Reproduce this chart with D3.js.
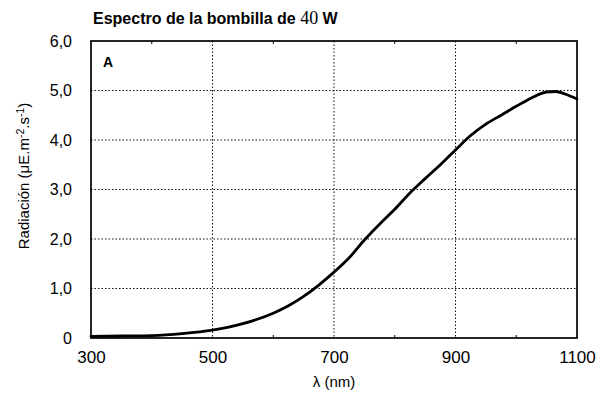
<!DOCTYPE html>
<html>
<head>
<meta charset="utf-8">
<script src="https://cdn.jsdelivr.net/npm/d3@7"></script>
<style>
  html, body { margin: 0; padding: 0; background: #fff; }
  svg { display: block; }
</style>
</head>
<body>
<script>
// ---- data ----
const wavelengths = [300, 350, 400, 450, 500, 550, 600, 625, 650, 675, 700, 725, 750, 775, 800, 825, 850, 875, 900, 925, 950, 975, 1000, 1025, 1050, 1065, 1080, 1100];
const radiation   = [0.03, 0.04, 0.05, 0.09, 0.16, 0.29, 0.50, 0.65, 0.84, 1.07, 1.33, 1.62, 1.98, 2.30, 2.60, 2.93, 3.22, 3.50, 3.80, 4.09, 4.32, 4.50, 4.68, 4.85, 4.97, 4.98, 4.93, 4.83];
const xTicks = [300, 500, 700, 900, 1100];
const xMinorTicks = [400, 600, 800, 1000];
const yTicks = [0, 1, 2, 3, 4, 5, 6];
const yTickLabels = ["0", "1,0", "2,0", "3,0", "4,0", "5,0", "6,0"];
const titleParts = ["Espectro de la bombilla de ", "40", " W"];
const panelLabel = "A";
const xTitle = "λ  (nm)";

// ---- layout ----
const W = 607, H = 404;
const m = { left: 91, right: 577, top: 41, bottom: 338 };

const svg = d3.select("body").append("svg").attr("width", W).attr("height", H);

const x = d3.scaleLinear().domain([300, 1100]).range([m.left, m.right]);
const y = d3.scaleLinear().domain([0, 6]).range([m.bottom, m.top]);

const font = "'Liberation Sans', Arial, Helvetica, sans-serif";

// grid
const grid = svg.append("g").attr("stroke", "#111").attr("stroke-width", 1).attr("stroke-dasharray", "1.5,2");
grid.selectAll("line.v").data(xTicks.slice(1, -1)).join("line")
  .attr("x1", d => x(d)).attr("x2", d => x(d)).attr("y1", m.top).attr("y2", m.bottom);
grid.selectAll("line.h").data(yTicks.slice(1, -1)).join("line")
  .attr("x1", m.left).attr("x2", m.right).attr("y1", d => y(d)).attr("y2", d => y(d));

// minor ticks (inside, top and bottom)
const minor = svg.append("g").attr("stroke", "#000").attr("stroke-width", 1);
minor.selectAll("line.b").data(xMinorTicks).join("line")
  .attr("x1", d => x(d)).attr("x2", d => x(d)).attr("y1", m.bottom).attr("y2", m.bottom - 3);
minor.selectAll("line.t").data(xMinorTicks).join("line")
  .attr("x1", d => x(d)).attr("x2", d => x(d)).attr("y1", m.top).attr("y2", m.top + 3);

// border
svg.append("rect").attr("x", m.left).attr("y", m.top)
  .attr("width", m.right - m.left).attr("height", m.bottom - m.top)
  .attr("fill", "none").attr("stroke", "#000").attr("stroke-width", 1.7);

// axes labels via d3 axes
const xAxis = d3.axisBottom(x).tickValues(xTicks).tickSize(0).tickPadding(13).tickFormat(d3.format("d"));
const gx = svg.append("g").attr("transform", `translate(0,${m.bottom})`).call(xAxis);
gx.select(".domain").remove();
gx.selectAll("text").attr("font-family", font).attr("font-size", 17).attr("fill", "#000");

const yAxis = d3.axisLeft(y).tickValues(yTicks).tickSize(0).tickPadding(19)
  .tickFormat((d, i) => yTickLabels[i]);
const gy = svg.append("g").attr("transform", `translate(${m.left},0)`).call(yAxis);
gy.select(".domain").remove();
gy.selectAll("text").attr("font-family", font).attr("font-size", 16).attr("fill", "#000");

// curve
const data = wavelengths.map((w, i) => ({ w, v: radiation[i] }));
const line = d3.line().x(d => x(d.w)).y(d => y(d.v)).curve(d3.curveMonotoneX);
svg.append("path").datum(data).attr("d", line)
  .attr("fill", "none").attr("stroke", "#000").attr("stroke-width", 2.8)
  .attr("stroke-linejoin", "round").attr("stroke-linecap", "round");

// title
const t = svg.append("text").attr("x", 93).attr("y", 24)
  .attr("font-family", font).attr("font-size", 16).attr("font-weight", "bold").attr("fill", "#000")
  .attr("letter-spacing", "0");
t.append("tspan").text(titleParts[0]);
t.append("tspan").attr("font-family", "'Liberation Serif', 'Times New Roman', serif")
  .attr("font-weight", "normal").attr("font-size", 18).text(titleParts[1]);
t.append("tspan").text(titleParts[2]);

// panel label
svg.append("text").attr("x", 103).attr("y", 67)
  .attr("font-family", font).attr("font-size", 14).attr("font-weight", "bold").text(panelLabel);

// x title
svg.append("text").attr("x", x(700)).attr("y", 387).attr("text-anchor", "middle")
  .attr("font-family", font).attr("font-size", 15).text(xTitle);

// y title
const yt = svg.append("text").attr("transform", `translate(29,176) rotate(-90)`)
  .attr("text-anchor", "middle").attr("font-family", font).attr("font-size", 15);
yt.append("tspan").text("Radiación (μE.m");
yt.append("tspan").attr("font-size", 10.5).attr("dy", -5).text("-2");
yt.append("tspan").attr("dy", 5).text(".s");
yt.append("tspan").attr("font-size", 10.5).attr("dy", -5).text("-1");
yt.append("tspan").attr("dy", 5).text(")");
</script>
</body>
</html>
